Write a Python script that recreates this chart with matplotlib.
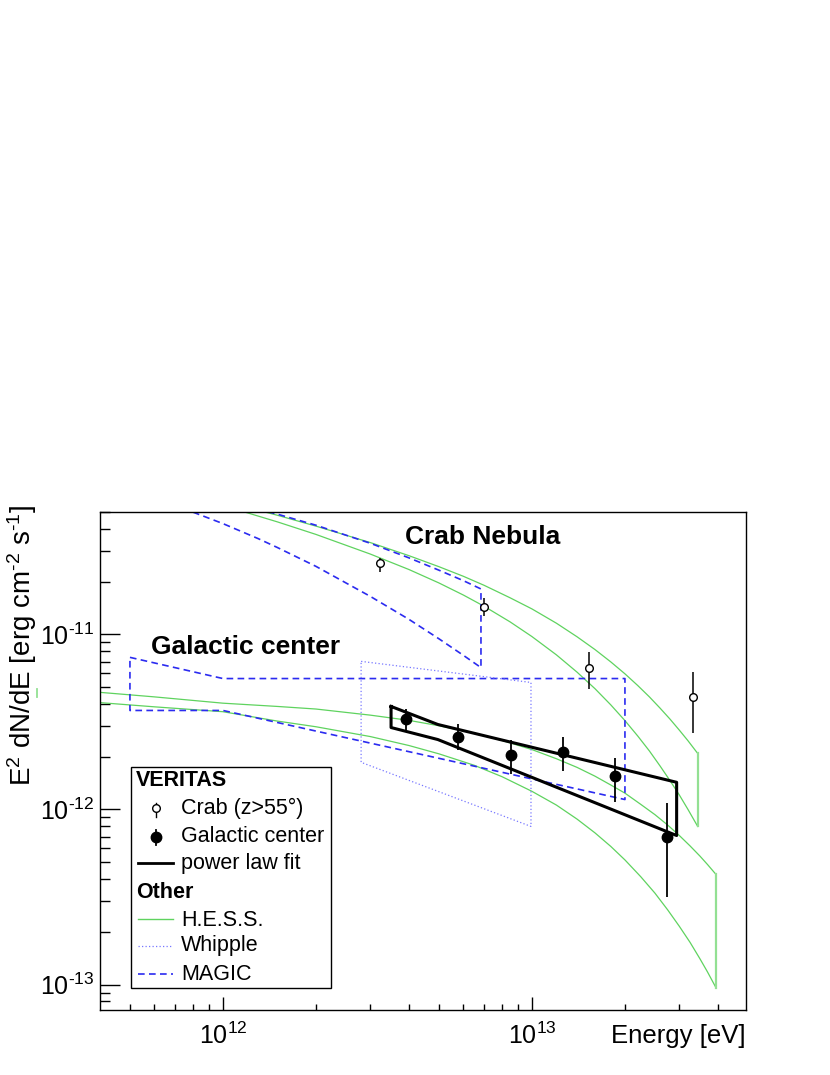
import matplotlib
matplotlib.use('Agg')
import matplotlib.pyplot as plt
from matplotlib.lines import Line2D
from matplotlib.patches import Rectangle
from matplotlib.ticker import FixedLocator, NullFormatter, FuncFormatter
import math

plt.rcParams['font.family'] = ['Liberation Sans', 'DejaVu Sans']
plt.rcParams['mathtext.fontset'] = 'custom'
plt.rcParams['mathtext.rm'] = 'Liberation Sans'
plt.rcParams['mathtext.it'] = 'Liberation Sans:italic'
plt.rcParams['mathtext.bf'] = 'Liberation Sans:bold'
plt.rcParams['mathtext.default'] = 'regular'

TEV = 1e12  # eV

# VERITAS Crab (z>55 deg), energies in TeV, E^2 dN/dE in erg cm^-2 s^-1
crab_e = [3.22, 7.0, 15.3, 33.2]
crab_f = [2.55e-11, 1.445e-11, 6.4e-12, 4.37e-12]
crab_lo = [2.29e-11, 1.27e-11, 4.85e-12, 2.72e-12]
crab_hi = [2.75e-11, 1.61e-11, 7.9e-12, 6.07e-12]

# VERITAS Galactic center
gc_e = [3.91, 5.76, 8.55, 12.6, 18.56, 27.35]
gc_f = [3.27e-12, 2.61e-12, 2.04e-12, 2.12e-12, 1.545e-12, 7.0e-13]
gc_lo = [2.79e-12, 2.20e-12, 1.585e-12, 1.67e-12, 1.11e-12, 3.18e-13]
gc_hi = [3.73e-12, 3.06e-12, 2.48e-12, 2.58e-12, 1.98e-12, 1.096e-12]

# power law fit butterfly (closed outline)
fit_e = [3.5, 4.96, 29.4, 29.4, 4.96, 3.5, 3.5]
fit_f = [3.88e-12, 3.06e-12, 1.43e-12, 7.1e-13, 2.51e-12, 2.94e-12, 3.88e-12]

# H.E.S.S. Crab band
hess_crab_e = [1, 1.5, 2, 3, 4, 5, 6, 7, 8.5, 10, 12, 14, 16, 18, 20, 22, 24, 26, 28, 30, 32, 34.4]
hess_crab_hi = [5.78e-11, 4.80e-11, 4.16e-11, 3.35e-11, 2.82e-11, 2.44e-11, 2.15e-11, 1.91e-11,
                1.62e-11, 1.40e-11, 1.16e-11, 9.70e-12, 8.20e-12, 6.97e-12, 5.96e-12, 5.11e-12,
                4.40e-12, 3.79e-12, 3.28e-12, 2.84e-12, 2.47e-12, 2.09e-12]
hess_crab_lo = [5.46e-11, 4.40e-11, 3.73e-11, 2.88e-11, 2.35e-11, 1.97e-11, 1.68e-11, 1.45e-11,
                1.18e-11, 9.73e-12, 7.65e-12, 6.09e-12, 4.90e-12, 3.96e-12, 3.22e-12, 2.63e-12,
                2.16e-12, 1.77e-12, 1.46e-12, 1.21e-12, 1.00e-12, 8.0e-13]

# H.E.S.S. Galactic center band
hess_gc_e = [0.25, 0.4, 0.6, 1, 1.5, 2, 3, 4, 5, 6.5, 8, 10, 12, 14, 16, 18, 20, 22.5, 25,
             27.5, 30, 32.5, 35, 37, 39.4]
hess_gc_hi = [4.87e-12, 4.67e-12, 4.40e-12, 4.05e-12, 3.88e-12, 3.75e-12, 3.46e-12, 3.23e-12,
              3.01e-12, 2.73e-12, 2.48e-12, 2.20e-12, 1.95e-12, 1.74e-12, 1.55e-12, 1.38e-12,
              1.24e-12, 1.07e-12, 9.35e-13, 8.15e-13, 7.10e-13, 6.19e-13, 5.41e-13, 4.85e-13,
              4.26e-13]
hess_gc_lo = [4.37e-12, 4.08e-12, 3.86e-12, 3.62e-12, 3.20e-12, 2.97e-12, 2.61e-12, 2.32e-12,
              2.08e-12, 1.79e-12, 1.54e-12, 1.27e-12, 1.06e-12, 8.81e-13, 7.35e-13, 6.15e-13,
              5.15e-13, 4.13e-13, 3.33e-13, 2.67e-13, 2.15e-13, 1.74e-13, 1.40e-13, 1.18e-13,
              9.6e-14]

# MAGIC Crab band
magic_crab_e = [0.8, 1, 1.3, 1.5, 2, 3, 4, 5, 6, 6.84]
magic_crab_hi = [6.26e-11, 5.79e-11, 5.20e-11, 4.87e-11, 4.21e-11, 3.32e-11, 2.74e-11,
                 2.33e-11, 2.03e-11, 1.82e-11]
magic_crab_lo = [5.00e-11, 4.30e-11, 3.53e-11, 3.14e-11, 2.45e-11, 1.65e-11, 1.22e-11,
                 9.45e-12, 7.60e-12, 6.47e-12]

# MAGIC Galactic center (closed outline)
magic_gc_e = [0.5, 1, 20, 20, 1, 0.5, 0.5]
magic_gc_f = [7.4e-12, 5.6e-12, 5.6e-12, 1.14e-12, 3.68e-12, 3.68e-12, 7.4e-12]

# Whipple Galactic center (closed outline)
whipple_e = [2.8, 9.93, 9.93, 2.8, 2.8]
whipple_f = [7.02e-12, 5.32e-12, 8.0e-13, 1.86e-12, 7.02e-12]

W, H = 830, 1075
GREEN = '#5fd35f'
GREEN_END = '#93e093'
BLUE = '#2b2bf0'
WHIPPLE = '#7777ff'
MAGIC_LS = (0, (4, 2.6))
WHIPPLE_LS = (0, (1, 1.8))


def fx(px):
    return px / W


def fy(py):
    return 1 - py / H


def tev(values):
    return [v * TEV for v in values]


def root_power(value, pos):
    '''10^n label with a short hyphen, as ROOT prints it'''
    n = int(round(math.log10(value)))
    sign = r'\text{-}' if n < 0 else ''
    return r'$10^{%s%d}$' % (sign, abs(n))


def draw_band(ax, e, hi, lo, lw=0.9):
    '''HESS style band: two curves closed by a vertical line at the end'''
    ax.plot(tev(e), hi, color=GREEN, lw=lw)
    ax.plot(tev(e), lo, color=GREEN, lw=lw)
    ax.plot(tev([e[-1], e[-1]]), [hi[-1], lo[-1]], color=GREEN_END, lw=1.6)


fig = plt.figure(figsize=(W / 100, H / 100), dpi=100)
ax = fig.add_axes([fx(100), fy(1010), (746 - 100) / W, (1010 - 512) / H])
ax.set_xscale('log')
ax.set_yscale('log')
ax.set_xlim(4.0e11, 4.93e13)
ax.set_ylim(7.15e-14, 5.01e-11)

# other experiments
draw_band(ax, hess_crab_e, hess_crab_hi, hess_crab_lo)
draw_band(ax, hess_gc_e, hess_gc_hi, hess_gc_lo)
# the low energy end of the GC band sticks out left of the frame
ax.plot(tev([hess_gc_e[0], hess_gc_e[0]]), [hess_gc_hi[0], hess_gc_lo[0]],
        color=GREEN_END, lw=1.3, clip_on=False)

ax.plot(tev(magic_crab_e + magic_crab_e[::-1]), magic_crab_lo + magic_crab_hi[::-1],
        color=BLUE, lw=1.2, ls=MAGIC_LS)
ax.plot(tev(magic_gc_e), magic_gc_f, color=BLUE, lw=1.2, ls=MAGIC_LS)
ax.plot(tev(whipple_e), whipple_f, color=WHIPPLE, lw=0.9, ls=WHIPPLE_LS)

# VERITAS
ax.plot(tev(fit_e), fit_f, color='black', lw=2.2, zorder=4)
ax.errorbar(tev(crab_e), crab_f,
            yerr=[[f - l for f, l in zip(crab_f, crab_lo)], [h - f for f, h in zip(crab_f, crab_hi)]],
            fmt='o', ms=5.5, mfc='white', mec='black', mew=1.0, ecolor='black', elinewidth=1.1,
            capsize=0, zorder=5)
ax.errorbar(tev(gc_e), gc_f,
            yerr=[[f - l for f, l in zip(gc_f, gc_lo)], [h - f for f, h in zip(gc_f, gc_hi)]],
            fmt='o', ms=7.5, mfc='black', mec='black', ecolor='black', elinewidth=1.3,
            capsize=0, zorder=5)

# axes styling, ROOT look
for side in ['left', 'right', 'top', 'bottom']:
    ax.spines[side].set_linewidth(1.0)
ax.xaxis.set_major_locator(FixedLocator([1e12, 1e13]))
ax.xaxis.set_minor_locator(FixedLocator([k * 10.0 ** n for n in (11, 12, 13) for k in range(2, 10)
                                         if 4.0e11 < k * 10.0 ** n < 4.93e13]))
ax.yaxis.set_major_locator(FixedLocator([1e-13, 1e-12, 1e-11]))
ax.yaxis.set_minor_locator(FixedLocator([k * 10.0 ** n for n in (-14, -13, -12, -11) for k in range(2, 10)
                                         if 7.15e-14 < k * 10.0 ** n < 5.01e-11]))
ax.xaxis.set_major_formatter(FuncFormatter(root_power))
ax.yaxis.set_major_formatter(FuncFormatter(root_power))
ax.xaxis.set_minor_formatter(NullFormatter())
ax.yaxis.set_minor_formatter(NullFormatter())
ax.tick_params(which='both', direction='in', top=False, right=False, width=1.0, labelsize=18)
ax.xaxis.set_tick_params(which='major', length=9.4, pad=9)
ax.xaxis.set_tick_params(which='minor', length=4.3)
ax.yaxis.set_tick_params(which='major', length=14.4, pad=4)
ax.yaxis.set_tick_params(which='minor', length=7.2)

fig.text(fx(746), fy(1043), 'Energy [eV]', ha='right', va='baseline', fontsize=18.5)
fig.text(fx(22), fy(505), r'E$^{2}$ dN/dE [erg cm$^{\text{-}2}$ s$^{\text{-}1}$]', rotation=90,
         ha='center', va='top', fontsize=20)

fig.text(fx(405), fy(537), 'Crab Nebula', ha='left', va='center', fontsize=19, fontweight='bold')
fig.text(fx(151), fy(647), 'Galactic center', ha='left', va='center', fontsize=19, fontweight='bold')

# legend drawn by hand, ROOT TLegend look
fig.add_artist(Rectangle((fx(131), fy(988)), (331 - 131) / W, (988 - 767) / H,
                         transform=fig.transFigure, facecolor='white', edgecolor='black',
                         lw=1.0, zorder=6))
LEG = 15.5
fig.text(fx(136), fy(781), 'VERITAS', fontsize=LEG, fontweight='bold', va='center', zorder=7)
fig.text(fx(181), fy(808), 'Crab (z>55\u00b0)', fontsize=LEG, va='center', zorder=7)
fig.text(fx(181), fy(837), 'Galactic center', fontsize=LEG, va='center', zorder=7)
fig.text(fx(181), fy(863), 'power law fit', fontsize=LEG, va='center', zorder=7)
fig.text(fx(136), fy(893), 'Other', fontsize=LEG, fontweight='bold', va='center', zorder=7)
fig.text(fx(181), fy(920), 'H.E.S.S.', fontsize=LEG, va='center', zorder=7)
fig.text(fx(181), fy(946), 'Whipple', fontsize=LEG, va='center', zorder=7)
fig.text(fx(181), fy(974), 'MAGIC', fontsize=LEG, va='center', zorder=7)

handles = [
    ([156, 156], [803, 817], dict(color='black', lw=1.0)),
    ([156], [808], dict(marker='o', ms=5.5, mfc='white', mec='black', mew=1.0, ls='none')),
    ([156, 156], [830, 845], dict(color='black', lw=1.3)),
    ([156], [837], dict(marker='o', ms=7.5, mfc='black', mec='black', ls='none')),
    ([138, 173], [863, 863], dict(color='black', lw=2.0)),
    ([138, 173], [919, 919], dict(color=GREEN, lw=1.0)),
    ([138, 173], [946, 946], dict(color=WHIPPLE, lw=0.9, ls=WHIPPLE_LS)),
    ([138, 173], [974, 974], dict(color=BLUE, lw=1.2, ls=MAGIC_LS)),
]
for xs, ys, style in handles:
    fig.add_artist(Line2D([fx(v) for v in xs], [fy(v) for v in ys],
                          transform=fig.transFigure, zorder=7, **style))

fig.savefig('out.png', dpi=100, facecolor='white')
